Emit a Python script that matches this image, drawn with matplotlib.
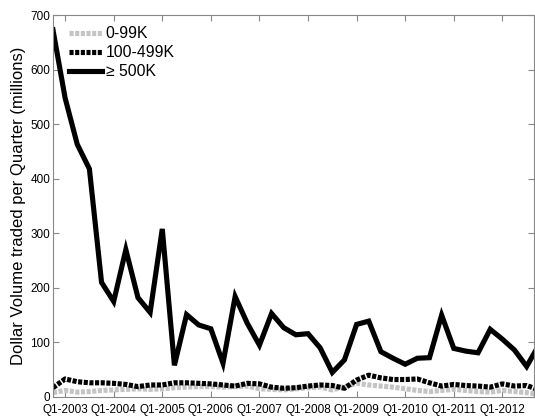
import matplotlib
matplotlib.use('Agg')
import matplotlib.pyplot as plt
import numpy as np

plt.rcParams['font.family'] = ['Liberation Sans', 'DejaVu Sans']

# quarterly dollar volume (millions), starting Q4-2002
vol_small = [8, 12, 9, 10, 12, 13, 14, 15, 14, 15, 17, 18, 19, 19, 18, 19, 20, 15, 14,
             13, 15, 17, 18, 13, 19, 25, 22, 20, 18, 15, 12, 10, 12, 14, 12, 10, 9, 12,
             10, 8, 5]
vol_mid = [17, 33, 28, 26, 26, 25, 23, 19, 22, 22, 26, 26, 25, 24, 22, 20, 25, 24, 18,
           16, 17, 20, 22, 21, 16, 31, 40, 35, 32, 32, 33, 26, 20, 23, 21, 20, 18, 24,
           20, 21, 13]
vol_large = [673, 548, 463, 418, 210, 175, 270, 182, 155, 308, 58, 151, 132, 125, 62, 184,
             135, 95, 153, 127, 114, 116, 90, 45, 68, 133, 139, 83, 71, 60, 71, 72, 150,
             89, 84, 81, 124, 106, 86, 56, 95]

tick_labels = ['Q1-%d' % y for y in range(2003, 2013)]
tick_pos = np.arange(1, 38, 4)

fig = plt.figure(figsize=(5.35, 4.17), dpi=100)
ax = fig.add_axes([0.099, 0.048, 0.899, 0.916])

x = np.arange(len(vol_large))
lw = 3.7
ax.plot(x, vol_small, color='#c4c4c4', lw=lw, linestyle=(0, (0.8, 0.3)), label='0-99K')
ax.plot(x, vol_mid, color='black', lw=lw, linestyle=(0, (0.8, 0.3)), label='100-499K')
ax.plot(x, vol_large, color='black', lw=lw, solid_joinstyle='miter', label='\u2265 500K')

ax.set_xlim(0, 39.6)
ax.set_ylim(0, 700)
ax.set_xticks(tick_pos)
ax.set_xticklabels(tick_labels, fontsize=8.5)
ax.set_yticks(np.arange(0, 701, 100))
ax.tick_params(axis='y', labelsize=8.5, pad=2)
ax.tick_params(axis='x', pad=5)
ax.tick_params(direction='in', top=True, right=True, length=4, color='#888888')
for s in ax.spines.values():
    s.set_color('#888888')
    s.set_linewidth(0.8)
ax.set_ylabel('Dollar Volume traded per Quarter (millions)', fontsize=12, labelpad=3)

ax.legend(loc='upper left', frameon=False, fontsize=11.3, handlelength=2.1,
          handletextpad=0.25, borderaxespad=0.3, labelspacing=0.27,
          bbox_to_anchor=(0.01, 1.0))

fig.savefig('out.png', dpi=100)
